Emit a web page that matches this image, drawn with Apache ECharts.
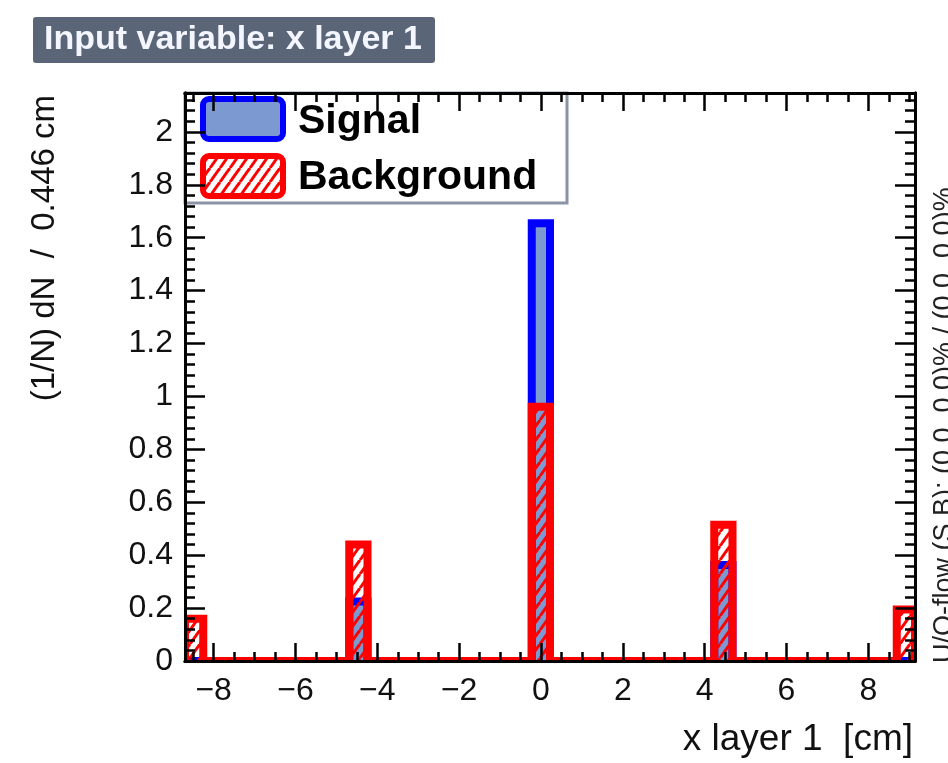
<!DOCTYPE html>
<html>
<head>
<meta charset="utf-8">
<script src="https://cdn.jsdelivr.net/npm/echarts@6/dist/echarts.min.js"></script>
<style>
  html, body { margin: 0; padding: 0; background: #ffffff; }
  #chart { width: 948px; height: 763px; }
</style>
</head>
<body>
<div id="chart"></div>
<script>
// Histogram binning: 40 bins of 0.446 cm starting at the low edge
const binLow = -8.70;
const binWidth = 0.446;

// Normalised bin contents (1/N dN per bin)
const signalValues = [
  0, 0, 0, 0, 0, 0, 0, 0, 0, 0.225,
  0, 0, 0, 0, 0, 0, 0, 0, 0, 1.655,
  0, 0, 0, 0, 0, 0, 0, 0, 0, 0.363,
  0, 0, 0, 0, 0, 0, 0, 0, 0, 0
];
const backgroundValues = [
  0.16, 0, 0, 0, 0, 0, 0, 0, 0, 0.44,
  0, 0, 0, 0, 0, 0, 0, 0, 0, 0.961,
  0, 0, 0, 0, 0, 0, 0, 0, 0, 0.515,
  0, 0, 0, 0, 0, 0, 0, 0, 0, 0.195
];

// Axis ticks
const xMajorTicks = [-8, -6, -4, -2, 0, 2, 4, 6, 8];
const xMinorStep = 0.5;
const yMajorTicks = [0, 0.2, 0.4, 0.6, 0.8, 1, 1.2, 1.4, 1.6, 1.8, 2];
const yMinorStep = 0.04;
const yMax = 2.147;

const titleText = 'Input variable: x layer 1';
const xTitle = 'x layer 1  [cm]';
const yTitle = '(1/N) dN  /  0.446 cm';
const flowText = 'U/O-flow (S,B): (0.0, 0.0)% / (0.0, 0.0)%';
const legendNames = ['Signal', 'Background'];

const FONT = "'Liberation Sans', Arial, Helvetica, sans-serif";
const xMin = binLow;
const xMax = +(binLow + signalValues.length * binWidth).toFixed(4);

function minorTicks(lo, hi, step, majors) {
  const out = [];
  for (let v = Math.ceil(lo / step) * step; v <= hi + 1e-9; v += step) {
    const r = +v.toFixed(4);
    if (!majors.some(m => Math.abs(m - r) < 1e-6)) out.push(r);
  }
  return out;
}
const xMinorTicks = minorTicks(xMin, xMax, xMinorStep, xMajorTicks);
const yMinorTicks = minorTicks(0, yMax, yMinorStep, yMajorTicks);

// Step outline of a histogram: corner points along the bin edges
function stepOutline(values) {
  const edge = k => +(binLow + k * binWidth).toFixed(4);
  const pts = [[edge(0), 0]];
  values.forEach((v, k) => {
    pts.push([edge(k), v]);
    pts.push([edge(k + 1), v]);
  });
  pts.push([edge(values.length), 0]);
  return pts;
}

// Red diagonal hatching used for the background fill
function hatchCanvas() {
  const w = 10, h = 14;
  const c = document.createElement('canvas');
  c.width = w; c.height = h;
  const g = c.getContext('2d');
  g.strokeStyle = '#ff0000';
  g.lineWidth = 3;
  for (const dx of [-w, 0, w]) {
    g.beginPath();
    g.moveTo(dx, h);
    g.lineTo(dx + w, 0);
    g.stroke();
  }
  return c;
}
const hatch = hatchCanvas();

function axis(kind, position, ticks, len, withLabels) {
  const isX = kind === 'x';
  return {
    type: 'value',
    position: position,
    min: isX ? xMin : 0,
    max: isX ? xMax : yMax,
    z: 10,
    silent: true,
    axisLine: { show: true, onZero: false, lineStyle: { color: '#000', width: 3 } },
    axisTick: {
      show: true, inside: true, length: len, customValues: ticks,
      lineStyle: { color: '#000', width: 2.5 }
    },
    axisLabel: withLabels ? {
      show: true,
      customValues: ticks,
      fontFamily: FONT,
      fontSize: 32,
      color: '#111',
      margin: isX ? 14 : 12,
      formatter: v => {
        const r = +(+v).toFixed(1);
        return r < 0 ? '\u2212' + Math.abs(r) : String(r);
      }
    } : { show: false },
    splitLine: { show: false },
    minorTick: { show: false }
  };
}

// Filled histogram with a thick step outline, clipped to the frame
function histSeries(name, values, fill, stroke, z) {
  const pts = stepOutline(values);
  return {
    name: name,
    type: 'custom',
    coordinateSystem: 'cartesian2d',
    xAxisIndex: 0, yAxisIndex: 0,
    clip: true,
    silent: true,
    z: z,
    data: pts,
    encode: { x: 0, y: 1 },
    renderItem: (params, api) => {
      if (params.dataIndex !== 0) return null;
      const px = pts.map(p => api.coord(p));
      return {
        type: 'group',
        children: [
          { type: 'polygon', shape: { points: px }, style: { fill: fill, stroke: null } },
          {
            type: 'polyline', shape: { points: px },
            style: { fill: null, stroke: stroke, lineWidth: 8, lineJoin: 'miter', lineCap: 'butt' }
          }
        ]
      };
    }
  };
}

const chart = echarts.init(document.getElementById('chart'), null, { renderer: 'canvas' });

chart.setOption({
  backgroundColor: '#ffffff',
  animation: false,
  grid: { left: 185, top: 93, right: 33, bottom: 102, containLabel: false },
  xAxis: [
    axis('x', 'bottom', xMajorTicks, 18, true),
    axis('x', 'bottom', xMinorTicks, 9, false),
    axis('x', 'top', xMajorTicks, 18, false),
    axis('x', 'top', xMinorTicks, 9, false)
  ],
  yAxis: [
    axis('y', 'left', yMajorTicks, 20, true),
    axis('y', 'left', yMinorTicks, 10, false),
    axis('y', 'right', yMajorTicks, 20, false),
    axis('y', 'right', yMinorTicks, 10, false)
  ],
  series: [
    histSeries(legendNames[0], signalValues, '#7d99d1', '#0000ff', 2),
    histSeries(legendNames[1], backgroundValues, { image: hatch, repeat: 'repeat' }, '#ff0000', 3)
  ],
  graphic: [
    // title banner
    {
      type: 'rect', z: 1,
      shape: { x: 33, y: 17, width: 402, height: 46, r: 3 },
      style: { fill: '#5b6578' }
    },
    {
      type: 'text', z: 2, x: 44, y: 40,
      style: {
        text: titleText, fill: '#f4f6ff', font: 'bold 34px ' + FONT,
        textAlign: 'left', textVerticalAlign: 'middle'
      }
    },
    // legend box
    {
      type: 'rect', z: 1,
      shape: { x: 185, y: 93, width: 382, height: 110 },
      style: { fill: '#ffffff', stroke: '#8a94a6', lineWidth: 3 }
    },
    {
      type: 'rect', z: 1,
      shape: { x: 203, y: 99, width: 80, height: 40, r: 6 },
      style: { fill: '#7d99d1', stroke: '#0000ff', lineWidth: 6 }
    },
    {
      type: 'rect', z: 1,
      shape: { x: 203, y: 156, width: 80, height: 40, r: 6 },
      style: { fill: { image: hatch, repeat: 'repeat' }, stroke: '#ff0000', lineWidth: 6 }
    },
    {
      type: 'text', z: 1, x: 298, y: 122,
      style: {
        text: legendNames[0], fill: '#000', font: 'bold 41px ' + FONT,
        textAlign: 'left', textVerticalAlign: 'middle'
      }
    },
    {
      type: 'text', z: 1, x: 298, y: 178,
      style: {
        text: legendNames[1], fill: '#000', font: 'bold 41px ' + FONT,
        textAlign: 'left', textVerticalAlign: 'middle'
      }
    },
    // axis titles
    {
      type: 'text', z: 1, x: 45, y: 95, rotation: Math.PI / 2,
      style: {
        text: yTitle, fill: '#111', font: '33px ' + FONT,
        textAlign: 'right', textVerticalAlign: 'middle'
      }
    },
    {
      type: 'text', z: 1, x: 913, y: 740,
      style: {
        text: xTitle, fill: '#111', font: '37px ' + FONT,
        textAlign: 'right', textVerticalAlign: 'middle'
      }
    },
    // under/overflow note along the right edge
    {
      type: 'text', z: 1, x: 931, y: 663, rotation: Math.PI / 2,
      style: {
        text: flowText, fill: '#222', font: '27px ' + FONT,
        textAlign: 'left', textVerticalAlign: 'top'
      }
    }
  ]
});
</script>
</body>
</html>
